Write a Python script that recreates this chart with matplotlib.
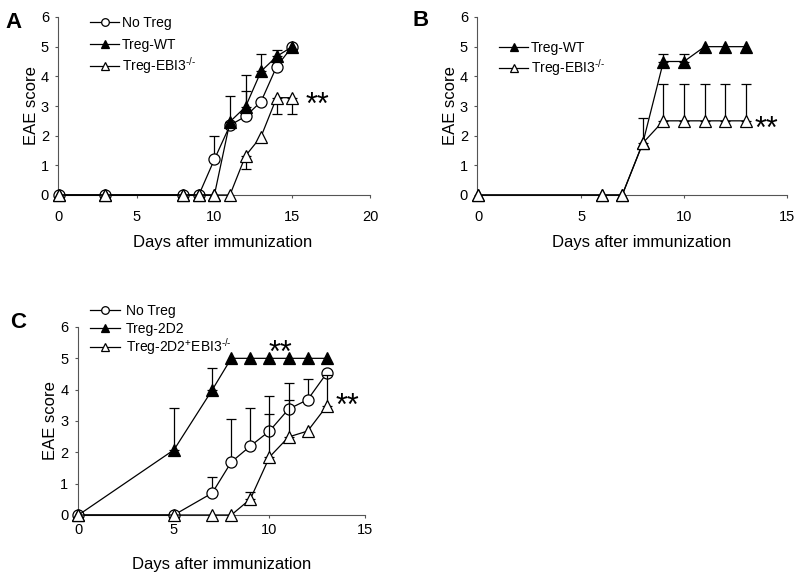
import matplotlib
matplotlib.use("Agg")
import matplotlib.pyplot as plt
from matplotlib.lines import Line2D
import numpy as np

plt.rcParams['font.family'] = ['Liberation Sans', 'DejaVu Sans']
plt.rcParams['mathtext.fontset'] = 'custom'
plt.rcParams['mathtext.rm'] = 'Liberation Sans'
plt.rcParams['mathtext.it'] = 'Liberation Sans'
plt.rcParams['mathtext.default'] = 'regular'

# ---------------- Panel A ----------------
a_days = [0, 3, 8, 9, 10, 11, 12, 13, 14, 15]
a_notreg = [0, 0, 0, 0, 1.2, 2.35, 2.65, 3.15, 4.33, 5.0]
a_notreg_up = [0, 0, 0, 0, 0.8, 0, 0.85, 0, 0, 0]
a_wt = [0, 0, 0, 0, 0, 2.47, 2.97, 4.17, 4.67, 5.0]
a_wt_up = [0, 0, 0, 0, 0, 0.87, 1.07, 0.58, 0.23, 0]
a_ebi = [0, 0, 0, 0, 0, 0, 1.32, 1.97, 3.28, 3.28]
a_ebi_dn = [0, 0, 0, 0, 0, 0, 0.44, 0, 0.55, 0.55]

# ---------------- Panel B ----------------
b_days = [0, 6, 7, 8, 9, 10, 11, 12, 13]
b_wt = [0, 0, 0, 1.75, 4.5, 4.5, 5.0, 5.0, 5.0]
b_wt_up = [0, 0, 0, 0, 0.25, 0.25, 0, 0, 0]
b_ebi = [0, 0, 0, 1.75, 2.5, 2.5, 2.5, 2.5, 2.5]
b_ebi_up = [0, 0, 0, 0.85, 1.25, 1.25, 1.25, 1.25, 1.25]

# ---------------- Panel C ----------------
c_days = [0, 5, 7, 8, 9, 10, 11, 12, 13]
c_notreg = [0, 0, 0.7, 1.69, 2.2, 2.68, 3.38, 3.68, 4.53]
c_notreg_up = [0, 0, 0.52, 1.38, 1.2, 1.12, 0.82, 0.66, 0]
c_2d2 = [0, 2.08, 3.99, 5.0, 5.0, 5.0, 5.0, 5.0, 5.0]
c_2d2_up = [0, 1.33, 0.7, 0, 0, 0, 0, 0, 0]
c_ebi = [0, 0, 0, 0, 0.51, 1.85, 2.49, 2.68, 3.48]
c_ebi_up = [0, 0, 0, 0, 0.23, 1.37, 1.18, 0, 1.0]

lab_notreg = 'No Treg'
lab_wt = 'Treg-WT'
lab_ebi = r'Treg-EBI3$^{\text{-/-}}$'
lab_2d2 = 'Treg-2D2'
lab_2d2ebi = r'Treg-2D2$^{\text{+}}$EBI3$^{\text{-/-}}$'

W, H = 800, 577
fig = plt.figure(figsize=(8.0, 5.77), dpi=100)

def px_ax(l, r, b, t):
    return fig.add_axes([l / W, 1 - b / H, (r - l) / W, (b - t) / H])

LW = 0.9
MS = 8
SPINE = '#555555'

def series(ax, x, y, marker, filled, up=None, dn=None, z=3):
    x = np.array(x); y = np.array(y)
    upa = np.array(up) if up is not None else np.zeros_like(y)
    dna = np.array(dn) if dn is not None else np.zeros_like(y)
    m = (upa > 0) | (dna > 0)
    if m.any():
        ax.errorbar(x[m], y[m], yerr=[dna[m], upa[m]], fmt='none', ecolor='black',
                    elinewidth=LW, capsize=3.8, capthick=LW, zorder=z - 0.5, clip_on=False)
    ax.plot(x, y, color='black', lw=LW, marker=marker, ms=MS,
            mfc='black' if filled else 'white', mec='black', mew=LW,
            zorder=z, clip_on=False)

def style(ax, xmax, xstep, xlab_frac, xpad=8, xlabpad=8):
    ax.set_ylim(0, 6)
    ax.set_yticks(range(0, 7))
    ax.set_xticks(np.arange(0, xmax + 0.1, xstep))
    for s in ['top', 'right']:
        ax.spines[s].set_visible(False)
    for s in ['left', 'bottom']:
        ax.spines[s].set_linewidth(0.8)
        ax.spines[s].set_color(SPINE)
    ax.tick_params(direction='out', length=2.5, width=0.8, labelsize=10.5, color=SPINE)
    ax.tick_params(axis='x', pad=xpad)
    ax.tick_params(axis='y', pad=4)
    ax.set_ylabel('EAE score', fontsize=12, labelpad=1.5)
    ax.set_xlabel('Days after immunization', fontsize=12, labelpad=xlabpad, x=xlab_frac)

def legend(entries, x0, x1, ys, tx):
    for (marker, filled, label), y in zip(entries, ys):
        yf = 1 - y / H
        fig.add_artist(Line2D([x0 / W, x1 / W], [yf, yf], transform=fig.transFigure,
                              color='black', lw=LW))
        fig.add_artist(Line2D([(x0 + x1) / 2 / W], [yf], transform=fig.transFigure,
                              marker=marker, ms=5.5, mfc='black' if filled else 'white',
                              mec='black', mew=LW, lw=0))
        fig.text(tx / W, 1 - (y + 5) / H, label, fontsize=10, ha='left', va='baseline')

# Panel A
axA = px_ax(58, 370, 195, 17)
axA.set_xlim(-0.05, 20)
style(axA, 20, 5, (223 - 58) / 312)
series(axA, a_days, a_notreg, 'o', False, up=a_notreg_up, z=3)
series(axA, a_days, a_wt, '^', True, up=a_wt_up, z=4)
series(axA, a_days, a_ebi, '^', False, dn=a_ebi_dn, z=5)
legend([('o', False, lab_notreg), ('^', True, lab_wt), ('^', False, lab_ebi)],
       90, 119, [22, 44, 66], 122)
axA.text(16.6, 3.02, '**', fontsize=22, ha='center', va='center')
fig.text(5 / W, 1 - 23 / H, 'A', fontsize=16, fontweight='bold', ha='left', va='center')

# Panel B
axB = px_ax(477, 787, 195, 17)
axB.set_xlim(-0.05, 15)
style(axB, 15, 5, (642 - 477) / 310)
series(axB, b_days, b_wt, '^', True, up=b_wt_up, z=4)
series(axB, b_days, b_ebi, '^', False, up=b_ebi_up, z=5)
legend([('^', True, lab_wt), ('^', False, lab_ebi)], 499, 528, [47, 68], 531)
axB.text(13.98, 2.2, '**', fontsize=22, ha='center', va='center')
fig.text(412 / W, 1 - 20 / H, 'B', fontsize=16, fontweight='bold', ha='left', va='center')

# Panel C
axC = px_ax(77.5, 365, 515, 327)
axC.set_xlim(-0.05, 15)
style(axC, 15, 5, 0.5, xpad=3, xlabpad=15)
series(axC, c_days, c_notreg, 'o', False, up=c_notreg_up, z=3)
series(axC, c_days, c_2d2, '^', True, up=c_2d2_up, z=4)
series(axC, c_days, c_ebi, '^', False, up=c_ebi_up, z=5)
legend([('o', False, lab_notreg), ('^', True, lab_2d2), ('^', False, lab_2d2ebi)],
       90, 120, [310, 328, 347], 126)
axC.text(10.56, 5.13, '**', fontsize=22, ha='center', va='center')
axC.text(14.1, 3.45, '**', fontsize=22, ha='center', va='center')
fig.text(10 / W, 1 - 323 / H, 'C', fontsize=16, fontweight='bold', ha='left', va='center')

fig.savefig('out.png', dpi=100)
